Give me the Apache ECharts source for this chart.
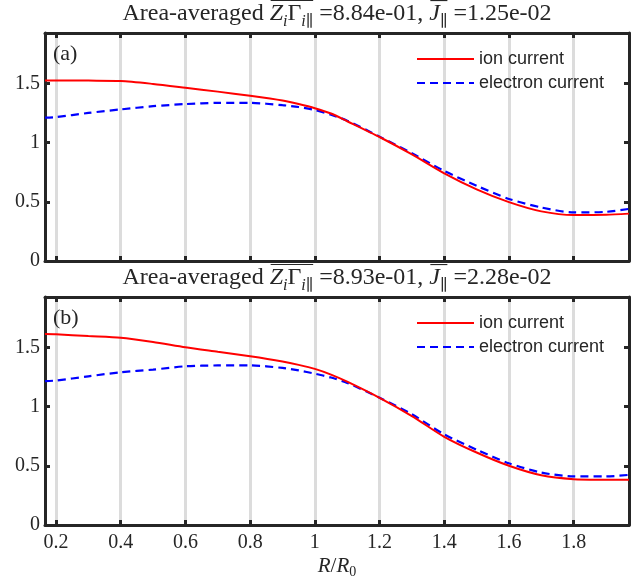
<!DOCTYPE html>
<html>
<head>
<meta charset="utf-8">
<script src="https://cdn.jsdelivr.net/npm/echarts@6/dist/echarts.min.js"></script>
<style>
  html, body { margin: 0; padding: 0; background: #fff; }
  #chart { width: 641px; height: 582px; }
</style>
</head>
<body>
<div id="chart"></div>
<script>
// Major radius positions (R/R0)
const rPos = [0.166, 0.2, 0.3, 0.4, 0.5, 0.6, 0.7, 0.8, 0.9, 0.95, 1.0, 1.05, 1.1, 1.2, 1.3, 1.4, 1.5, 1.6, 1.7, 1.8, 1.9, 1.971];

// Panel (a): parallel currents
const ionA = [1.525, 1.525, 1.523, 1.52, 1.495, 1.463, 1.43, 1.395, 1.355, 1.325, 1.29, 1.245, 1.18, 1.047, 0.90, 0.74, 0.605, 0.497, 0.419, 0.388, 0.39, 0.40];
const eleA = [1.21, 1.215, 1.25, 1.28, 1.307, 1.325, 1.335, 1.335, 1.316, 1.30, 1.275, 1.235, 1.185, 1.05, 0.91, 0.76, 0.635, 0.524, 0.452, 0.41, 0.415, 0.44];

// Panel (b): parallel currents
const ionB = [1.612, 1.61, 1.595, 1.581, 1.545, 1.50, 1.462, 1.424, 1.38, 1.352, 1.318, 1.27, 1.21, 1.074, 0.92, 0.745, 0.612, 0.50, 0.42, 0.387, 0.382, 0.381];
const eleB = [1.214, 1.22, 1.255, 1.29, 1.312, 1.34, 1.347, 1.348, 1.326, 1.305, 1.278, 1.245, 1.20, 1.074, 0.935, 0.765, 0.636, 0.521, 0.443, 0.41, 0.41, 0.423];

// Axis ticks
const xTicks = [0.2, 0.4, 0.6, 0.8, 1, 1.2, 1.4, 1.6, 1.8];
const yTicks = [0, 0.5, 1, 1.5];

// Panel annotations
const panelTags = ['(a)', '(b)'];
const ionAvg = ['8.84e-01', '8.93e-01'];
const jAvg = ['1.25e-02', '2.28e-02'];
const seriesNames = ['ion current', 'electron current'];

const X_MIN = 0.166, X_MAX = 1.971, Y_MIN = 0, Y_MAX = 1.925;
const SERIF = '"Liberation Serif", "DejaVu Serif", serif';
const SANS = '"Liberation Sans", Arial, sans-serif';
const INK = '#262626';

const grids = [
  { left: 45, right: 12, top: 33, height: 228 },
  { left: 45, right: 12, top: 297, height: 228 }
];

// Lay out a run of math-style text pieces centred at (cx, cy)
const measureCtx = document.createElement('canvas').getContext('2d');
function fontOf(p, size) {
  const sz = p.sub ? Math.round(size * 0.68) : size;
  return (p.it ? 'italic ' : '') + sz + 'px ' + SERIF;
}
function mathText(pieces, cx, cy, size) {
  const widths = pieces.map(p => { measureCtx.font = fontOf(p, size); return measureCtx.measureText(p.t).width; });
  const total = widths.reduce((a, b) => a + b, 0);
  let x = cx - total / 2;
  const els = [];
  let olStart = null;
  pieces.forEach((p, i) => {
    els.push({
      type: 'text', x: x, y: cy + (p.sub ? size * 0.32 : 0), z: 100,
      style: { text: p.t, font: fontOf(p, size), fill: INK, textAlign: 'left', textVerticalAlign: 'middle' }
    });
    if (p.ol && olStart === null) olStart = x;
    const xEnd = x + widths[i];
    const nextOl = i + 1 < pieces.length && pieces[i + 1].ol;
    if (p.ol && !nextOl) {
      const yy = cy - size * 0.56;
      els.push({ type: 'line', z: 100, shape: { x1: olStart + 1, y1: yy, x2: xEnd, y2: yy }, style: { stroke: INK, lineWidth: 1.1 } });
      olStart = null;
    }
    x = xEnd;
  });
  return els;
}

function titlePieces(k) {
  return [
    { t: 'Area-averaged ' },
    { t: 'Z', it: true, ol: true },
    { t: 'i', it: true, sub: true, ol: true },
    { t: 'Γ', ol: true },
    { t: 'i', it: true, sub: true, ol: true },
    { t: '∥', sub: true, ol: true },
    { t: ' =' + ionAvg[k] + ', ' },
    { t: 'J', it: true, ol: true },
    { t: '∥', sub: true, ol: true },
    { t: ' =' + jAvg[k] }
  ];
}

const graphics = [];
grids.forEach((g, k) => {
  const cx = g.left + (641 - g.left - g.right) / 2;
  graphics.push(...mathText(titlePieces(k), cx, g.top - 19, 24));
  graphics.push({
    type: 'text', x: g.left + 8, y: g.top + 21, z: 100,
    style: { text: panelTags[k], font: '22px ' + SERIF, fill: INK, textAlign: 'left', textVerticalAlign: 'middle' }
  });
});
graphics.push(...mathText([
  { t: 'R', it: true }, { t: '/' }, { t: 'R', it: true }, { t: '0', sub: true }
], 337, 566, 21));

const xAxes = [], yAxes = [], series = [], legends = [];
grids.forEach((g, k) => {
  const tickStyle = { show: true, inside: true, length: 5, lineStyle: { color: INK, width: 3 } };
  const lineStyle = { show: true, onZero: false, lineStyle: { color: INK, width: 3 } };
  xAxes.push({
    type: 'value', gridIndex: k, position: 'bottom', min: X_MIN, max: X_MAX,
    axisLine: lineStyle,
    axisTick: Object.assign({ customValues: xTicks }, tickStyle),
    axisLabel: { show: k === 1, customValues: xTicks, fontFamily: SERIF, fontSize: 20, color: INK, margin: 8 },
    splitLine: { show: true, lineStyle: { color: '#dcdcdc', width: 3 } }
  });
  xAxes.push({
    type: 'value', gridIndex: k, position: 'top', min: X_MIN, max: X_MAX,
    axisLine: lineStyle,
    axisTick: Object.assign({ customValues: xTicks }, tickStyle),
    axisLabel: { show: false }, splitLine: { show: false }
  });
  yAxes.push({
    type: 'value', gridIndex: k, position: 'left', min: Y_MIN, max: Y_MAX,
    axisLine: lineStyle,
    axisTick: Object.assign({ customValues: yTicks }, tickStyle),
    axisLabel: { customValues: yTicks, fontFamily: SERIF, fontSize: 20, color: INK, margin: 5 },
    splitLine: { show: false }
  });
  yAxes.push({
    type: 'value', gridIndex: k, position: 'right', min: Y_MIN, max: Y_MAX,
    axisLine: lineStyle,
    axisTick: Object.assign({ customValues: yTicks }, tickStyle),
    axisLabel: { show: false }, splitLine: { show: false }
  });
  const ion = k === 0 ? ionA : ionB;
  const ele = k === 0 ? eleA : eleB;
  series.push({
    name: seriesNames[0], type: 'line', xAxisIndex: 2 * k, yAxisIndex: 2 * k,
    data: rPos.map((r, i) => [r, ion[i]]), symbol: 'none', smooth: 0.25,
    lineStyle: { color: '#ff0000', width: 2 }, itemStyle: { color: '#ff0000' }, z: 3
  });
  series.push({
    name: seriesNames[1], type: 'line', xAxisIndex: 2 * k, yAxisIndex: 2 * k,
    data: rPos.map((r, i) => [r, ele[i]]), symbol: 'none', smooth: 0.25,
    lineStyle: { color: '#0000ff', width: 2.2, type: [8, 5] }, itemStyle: { color: '#0000ff' }, z: 2
  });
  legends.push({
    orient: 'vertical', left: 416, top: g.top + 17, padding: 0,
    data: seriesNames, itemWidth: 57, itemHeight: 14, itemGap: 6,
    itemStyle: { opacity: 0 },
    textStyle: { fontFamily: SANS, fontSize: 18, color: INK },
    selectedMode: false
  });
});

const chart = echarts.init(document.getElementById('chart'), null, { renderer: 'canvas' });
chart.setOption({
  animation: false,
  backgroundColor: '#ffffff',
  grid: grids,
  xAxis: xAxes,
  yAxis: yAxes,
  legend: legends,
  series: series,
  graphic: graphics
});
</script>
</body>
</html>
